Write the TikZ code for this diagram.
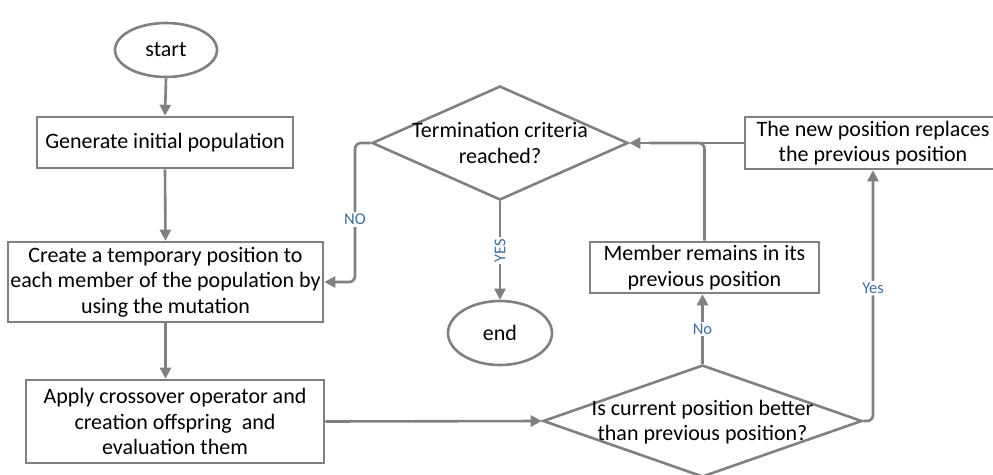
\documentclass[tikz,border=0pt]{standalone}
\usepackage{fontspec}
\setmainfont{Carlito}
\usetikzlibrary{shapes.geometric,arrows.meta}
\definecolor{ln}{HTML}{808080}
\definecolor{lbl}{HTML}{3F6E9E}
\begin{document}
\begin{tikzpicture}[x=1pt,y=-1pt,
  every node/.style={font=\fontsize{22}{25.5}\selectfont, align=center, inner sep=0pt},
  boxnode/.style={draw=ln, line width=2.6pt, rectangle, fill=white},
  ovalnode/.style={draw=ln, line width=2.6pt, ellipse, fill=white},
  dianode/.style={draw=ln, line width=2.6pt, diamond, fill=white},
  conn/.style={draw=ln, line width=2.6pt},
  arr/.style={conn, -{Triangle[length=11pt,width=11pt]}},
  lab/.style={font=\fontsize{16.5}{18}\selectfont, text=lbl, fill=white, inner sep=2pt}
]
\useasboundingbox (0,0) rectangle (993,474);

\node[ovalnode, minimum width=102pt, minimum height=54pt] (start) at (166,50) {start};
\node[boxnode, minimum width=256pt, minimum height=51pt] (gen) at (165,142.5) {Generate initial population};
\node[boxnode, minimum width=315pt, minimum height=80pt] (create) at (165.5,282) {Create a temporary position to\\each member of the population by\\using the mutation};
\node[boxnode, minimum width=298pt, minimum height=83pt] (cross) at (175,421.5) {Apply crossover operator and\\creation offspring\ \ and\\evaluation them};
\node[dianode, minimum width=256pt, minimum height=114pt] (d1) at (500,143) {};
\node at (d1) {Termination criteria\\reached?};
\node[ovalnode, minimum width=104pt, minimum height=64pt] (end) at (500,333) {end};
\node[dianode, minimum width=319pt, minimum height=112pt] (d2) at (702.5,421) {};
\node at ([yshift=-1pt]d2) {Is current position better\\than previous position?};
\node[boxnode, minimum width=229pt, minimum height=51pt] (member) at (704.5,267.5) {Member remains in its\\previous position};
\node[boxnode, minimum width=256pt, minimum height=52pt] (newpos) at (873,143) {The new position replaces\\the previous position};

\draw[arr] (start.south) -- (gen.north);
\draw[arr] (gen.south) -- (create.north);
\draw[arr] (create.south) -- (create.south |- cross.north);
\draw[arr] (cross.east) -- (d2.west);
\draw[arr] (d2.north) -- node[lab, pos=0.5] {No} (d2.north |- member.south);
\coordinate (j1) at (member.north |- d1.east);
\draw[conn, rounded corners=6pt] (member.north) -- (j1) -- ([xshift=20pt]d1.east);
\draw[arr] (newpos.west) -- (d1.east);
\coordinate (c2) at (873,421);
\draw[arr, rounded corners=6pt] (d2.east) -- (c2) -- node[lab, pos=0.53] {Yes} (c2 |- newpos.south);
\coordinate (c1) at (355,143);
\draw[arr, rounded corners=6pt] (d1.west) -- (c1) -- node[lab, pos=0.55] {NO} (c1 |- create.east) -- (create.east);
\draw[arr] (d1.south) -- node[lab, pos=0.5, rotate=90] {YES} (end.north);
\end{tikzpicture}
\end{document}
